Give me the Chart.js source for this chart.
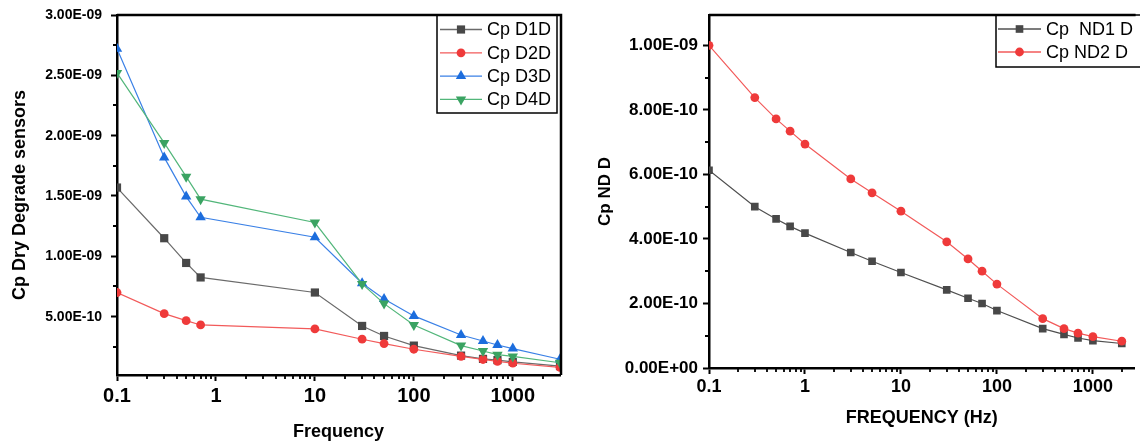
<!DOCTYPE html>
<html>
<head>
<meta charset="utf-8">
<script src="https://cdn.jsdelivr.net/npm/chart.js@4.4.1/dist/chart.umd.min.js"></script>
<style>
  body { margin: 0; background: #fff; }
  #wrap { position: relative; width: 1140px; height: 446px; overflow: hidden; background: #fff; }
  canvas { position: absolute; top: 0; }
  #left { left: 0; }
  #right { left: 580px; }
</style>
</head>
<body>
<div id="wrap">
  <canvas id="left" width="580" height="446"></canvas>
  <canvas id="right" width="560" height="446"></canvas>
</div>
<script>
// ---- data: dry degrade sensors (left) ----
const freqD = [0.1, 0.3, 0.5, 0.7, 10, 30, 50, 100, 300, 500, 700, 1000, 3000];
const cpD1D = [1.57e-9, 1.15e-9, 9.45e-10, 8.25e-10, 7.0e-10, 4.23e-10, 3.4e-10, 2.6e-10, 1.77e-10, 1.5e-10, 1.4e-10, 1.25e-10, 9.0e-11];
const cpD2D = [7.0e-10, 5.25e-10, 4.67e-10, 4.31e-10, 3.98e-10, 3.13e-10, 2.77e-10, 2.3e-10, 1.7e-10, 1.45e-10, 1.3e-10, 1.14e-10, 8.0e-11];
const cpD3D = [2.72e-9, 1.82e-9, 1.495e-9, 1.324e-9, 1.158e-9, 7.77e-10, 6.47e-10, 5.06e-10, 3.48e-10, 2.98e-10, 2.65e-10, 2.35e-10, 1.47e-10];
const cpD4D = [2.52e-9, 1.94e-9, 1.66e-9, 1.474e-9, 1.28e-9, 7.71e-10, 6.08e-10, 4.31e-10, 2.6e-10, 2.15e-10, 1.85e-10, 1.7e-10, 1.18e-10];
const labelsD = ['Cp D1D', 'Cp D2D', 'Cp D3D', 'Cp D4D'];
const yTicksD = [5e-10, 1e-9, 1.5e-9, 2e-9, 2.5e-9, 3e-9];

// ---- data: ND (right) ----
const freqND = [0.1, 0.3, 0.5, 0.7, 1, 3, 5, 10, 30, 50, 70, 100, 300, 500, 700, 1000, 2000];
const cpND1 = [6.13e-10, 5.0e-10, 4.62e-10, 4.39e-10, 4.18e-10, 3.58e-10, 3.31e-10, 2.96e-10, 2.42e-10, 2.16e-10, 2.0e-10, 1.78e-10, 1.22e-10, 1.04e-10, 9.3e-11, 8.5e-11, 7.6e-11];
const cpND2 = [1.0e-9, 8.38e-10, 7.72e-10, 7.34e-10, 6.94e-10, 5.86e-10, 5.43e-10, 4.86e-10, 3.91e-10, 3.38e-10, 3.0e-10, 2.6e-10, 1.53e-10, 1.22e-10, 1.08e-10, 9.7e-11, 8.3e-11];
const labelsND = ['Cp  ND1 D', 'Cp ND2 D'];
const yTicksND = [0, 2e-10, 4e-10, 6e-10, 8e-10, 1e-9];

const xTicks = [0.1, 1, 10, 100, 1000];

const FONT = "'Liberation Sans', Arial, sans-serif";

function sci(v) {
  if (v === 0) return '0.00E+00';
  const [m, e] = v.toExponential(2).split('e');
  const n = parseInt(e, 10);
  return m + 'E' + (n < 0 ? '-' : '+') + String(Math.abs(n)).padStart(2, '0');
}

function pts(xs, ys) {
  return xs.map((x, i) => ({ x, y: ys[i] }));
}

function drawMarker(ctx, style, x, y, r, color) {
  ctx.save();
  ctx.fillStyle = color;
  ctx.beginPath();
  if (style === 'rect') {
    const s = r * Math.SQRT1_2;
    ctx.rect(x - s, y - s, 2 * s, 2 * s);
  } else if (style === 'circle') {
    ctx.arc(x, y, r, 0, Math.PI * 2);
  } else {
    const dir = style === 'triDown' ? -1 : 1;
    for (let k = 0; k < 3; k++) {
      const a = -Math.PI / 2 + k * 2 * Math.PI / 3;
      const px = x + Math.cos(a) * r;
      const py = y + dir * Math.sin(a) * r;
      k ? ctx.lineTo(px, py) : ctx.moveTo(px, py);
    }
    ctx.closePath();
  }
  ctx.fill();
  ctx.restore();
}

// frame, minor ticks and boxed legend
const decor = {
  id: 'decor',
  afterDraw(chart, args, opts) {
    const { ctx, chartArea: a } = chart;
    const xs = chart.scales.x, ys = chart.scales.y;
    ctx.save();
    ctx.strokeStyle = '#000';
    ctx.lineWidth = 2.5;
    ctx.beginPath();
    ctx.moveTo(a.left, a.top);
    ctx.lineTo(a.right + 1, a.top);
    if (opts.rightBorder) ctx.lineTo(a.right + 1, a.bottom);
    ctx.stroke();

    // minor ticks
    ctx.lineWidth = 1.8;
    ctx.beginPath();
    xTicks.forEach(d => {
      for (let k = 2; k <= 9; k++) {
        const v = d * k;
        if (v <= xs.min || v >= xs.max) continue;
        const px = Math.round(xs.getPixelForValue(v));
        ctx.moveTo(px, a.bottom);
        ctx.lineTo(px, a.bottom + 4);
      }
    });
    const yt = opts.yTicks;
    const step = yt[1] - yt[0];
    for (let v = yt[0] - step / 2; v < ys.max; v += step) {
      if (v <= ys.min) continue;
      const py = Math.round(ys.getPixelForValue(v));
      ctx.moveTo(a.left, py);
      ctx.lineTo(a.left - 4, py);
    }
    ctx.stroke();

    // legend
    const L = opts.legend;
    ctx.lineWidth = 1.5;
    ctx.strokeRect(L.x, L.y, L.w, L.h);
    ctx.font = '18px ' + FONT;
    ctx.textBaseline = 'middle';
    ctx.textAlign = 'left';
    chart.data.datasets.forEach((ds, i) => {
      const ry = L.row0 + i * L.rowH;
      ctx.strokeStyle = ds.legendLine;
      ctx.lineWidth = 1.3;
      ctx.beginPath();
      ctx.moveTo(L.lx0, ry);
      ctx.lineTo(L.lx1, ry);
      ctx.stroke();
      drawMarker(ctx, ds.marker, (L.lx0 + L.lx1) / 2, ry, ds.pointRadius, ds.pointBackgroundColor);
      ctx.fillStyle = '#000';
      ctx.fillText(ds.label, L.tx, ry + 1);
    });
    ctx.restore();
  }
};

function series(label, xs, ys, line, mark, style, r, order) {
  const ps = style === 'triDown' ? 'triangle' : style;
  return {
    label,
    data: pts(xs, ys),
    borderColor: line,
    legendLine: line,
    backgroundColor: mark,
    pointBackgroundColor: mark,
    pointBorderColor: mark,
    pointBorderWidth: 0,
    pointStyle: ps,
    pointRotation: style === 'triDown' ? 180 : 0,
    marker: style,
    pointRadius: r,
    borderWidth: 1.2,
    tension: 0,
    order
  };
}

function axisOpts(kind, o) {
  const isX = kind === 'x';
  return {
    type: isX ? 'logarithmic' : 'linear',
    min: o.min,
    max: o.max,
    border: { display: true, color: '#000', width: 2.5 },
    grid: { display: true, drawOnChartArea: false, drawTicks: true, tickLength: 6, tickWidth: 2, tickColor: '#000' },
    ticks: {
      color: '#000',
      font: { family: FONT, size: o.tickSize, weight: 'bold' },
      padding: o.tickPad,
      autoSkip: false,
      maxRotation: 0,
      callback: isX ? (v => String(v)) : (v => sci(v))
    },
    title: {
      display: true,
      text: o.title,
      color: '#000',
      font: { family: FONT, size: o.titleSize, weight: 'bold' },
      padding: o.titlePad
    },
    afterBuildTicks: s => { s.ticks = o.ticks.map(v => ({ value: v })); },
    afterFit: s => {
      if (isX) s.height = o.size; else s.width = o.size;
      s.paddingLeft = 0; s.paddingRight = 0; s.paddingTop = 0; s.paddingBottom = 0;
    }
  };
}

Chart.defaults.animation = false;

new Chart(document.getElementById('left'), {
  type: 'line',
  data: {
    datasets: [
      series(labelsD[0], freqD, cpD1D, '#6a6a6a', '#484848', 'rect', 5.8, 4),
      series(labelsD[1], freqD, cpD2D, '#f25a5a', '#ef3a3a', 'circle', 4.4, 3),
      series(labelsD[2], freqD, cpD3D, '#3a80e6', '#1c6ddd', 'triangle', 6, 2),
      series(labelsD[3], freqD, cpD4D, '#52b67a', '#3aa362', 'triDown', 6, 1)
    ]
  },
  options: {
    responsive: false,
    animation: false,
    layout: { padding: { top: 15, right: 20, left: 0, bottom: 0 } },
    plugins: {
      legend: { display: false },
      tooltip: { enabled: false },
      decor: {
        rightBorder: true,
        yTicks: yTicksD,
        legend: { x: 437, y: 15, w: 120, h: 98, row0: 29.5, rowH: 23.3, lx0: 440, lx1: 482, tx: 487 }
      }
    },
    scales: {
      x: axisOpts('x', { min: 0.1, max: 3000, ticks: xTicks, size: 71, tickSize: 20, tickPad: 3, title: 'Frequency', titleSize: 18, titlePad: { top: 0, bottom: 3 } }),
      y: axisOpts('y', { min: 1.64e-11, max: 3e-9, ticks: yTicksD, size: 117, tickSize: 14, tickPad: 9, title: 'Cp Dry Degrade sensors', titleSize: 18, titlePad: { top: 9, bottom: 0 } })
    }
  },
  plugins: [decor]
});

new Chart(document.getElementById('right'), {
  type: 'line',
  data: {
    datasets: [
      series(labelsND[0], freqND, cpND1, '#505050', '#484848', 'rect', 5.4, 2),
      series(labelsND[1], freqND, cpND2, '#f25a5a', '#ef3a3a', 'circle', 4.4, 1)
    ]
  },
  options: {
    responsive: false,
    animation: false,
    layout: { padding: { top: 15, right: 0, left: 0, bottom: 0 } },
    plugins: {
      legend: { display: false },
      tooltip: { enabled: false },
      decor: {
        rightBorder: false,
        yTicks: yTicksND,
        legend: { x: 416, y: 15, w: 160, h: 52, row0: 29, rowH: 23, lx0: 418, lx1: 461, tx: 466 }
      }
    },
    scales: {
      x: axisOpts('x', { min: 0.1, max: 2720, ticks: xTicks, size: 78, tickSize: 18, tickPad: 2, title: 'FREQUENCY (Hz)', titleSize: 18, titlePad: { top: 0, bottom: 17 } }),
      y: axisOpts('y', { min: 0, max: 1.094e-9, ticks: yTicksND, size: 129, tickSize: 17, tickPad: 5, title: 'Cp ND D', titleSize: 17, titlePad: { top: 15, bottom: 0 } })
    }
  },
  plugins: [decor]
});
</script>
</body>
</html>
